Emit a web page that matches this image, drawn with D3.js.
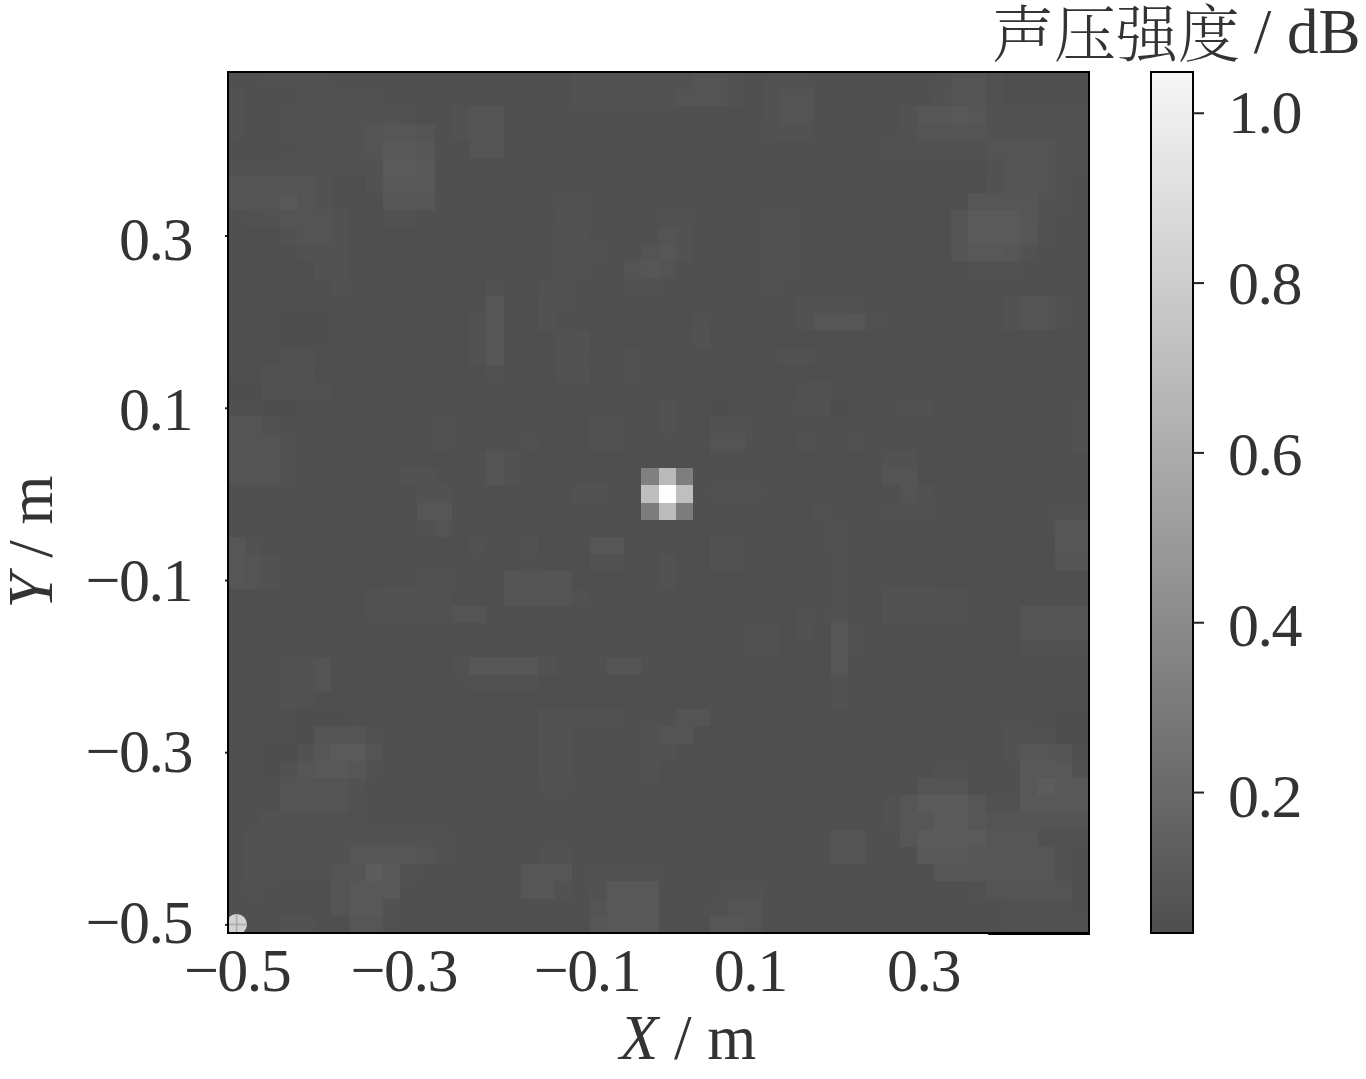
<!DOCTYPE html>
<html><head><meta charset="utf-8">
<style>html,body{margin:0;padding:0;background:#fff}svg{display:block}text{font-family:"Liberation Serif",serif;fill:#333}</style>
<script src="https://cdn.jsdelivr.net/npm/d3@7"></script></head><body>
<script>
const xTicks=[-0.5,-0.3,-0.1,0.1,0.3];
const yTicks=[-0.5,-0.3,-0.1,0.1,0.3];
const barTicks=[0.2,0.4,0.6,0.8,1.0];
const cellCentersX=d3.range(50).map(i=>(-50+2*i)/100);
const cellCentersY=d3.range(50).map(i=>(48-2*i)/100);
const sourceMarker=[-0.5,-0.5];
// sound pressure intensity, hundredths, top row first
const levelRows=[
[6,6,7,7,7,7,6,6,6,6,6,6,6,6,6,6,6,6,6,6,8,8,7,7,7,7,8,9,9,8,5,7,7,7,6,6,6,6,6,6,6,7,9,9,7,5,5,5,5,6],
[7,5,5,6,8,8,8,7,7,6,5,5,6,6,6,6,6,6,6,6,8,8,7,7,7,7,9,9,9,8,5,7,9,9,6,6,6,6,6,6,6,8,9,9,7,5,5,5,5,6],
[7,5,5,7,8,8,8,8,8,8,7,5,6,8,9,9,6,6,6,6,6,6,6,6,6,6,6,6,6,5,5,7,9,9,6,6,6,6,5,8,10,10,11,10,8,7,7,7,7,7],
[7,5,5,7,8,8,8,8,9,10,10,9,6,8,9,9,6,6,6,6,6,6,6,6,6,6,6,6,6,6,6,7,8,8,6,6,6,6,6,7,9,9,9,9,8,8,8,8,8,7],
[5,5,5,6,7,7,7,8,9,11,11,10,6,5,9,9,6,6,6,6,6,6,6,6,6,6,6,6,6,6,6,6,6,6,6,6,6,6,7,7,7,7,8,8,9,9,9,9,8,7],
[7,7,7,7,7,7,7,8,8,12,12,11,6,5,5,5,6,6,6,6,6,6,5,6,6,6,6,6,6,6,6,6,6,6,6,6,6,6,6,6,6,6,6,6,8,9,9,9,8,7],
[9,9,9,9,9,8,6,5,8,11,11,11,6,5,5,5,5,5,5,5,5,6,6,6,6,6,6,6,5,5,5,5,5,5,5,5,5,5,5,5,5,5,5,5,8,9,9,9,7,6],
[9,9,9,11,9,8,6,5,5,10,10,10,6,5,5,5,5,5,6,7,7,6,6,6,6,6,6,6,6,6,6,6,6,6,6,5,5,5,5,5,5,5,5,10,10,10,10,8,7,6],
[6,7,8,9,9,9,8,5,5,7,7,6,6,5,5,5,5,5,5,7,7,6,6,6,6,7,7,6,6,6,6,7,7,6,5,5,5,5,5,5,5,5,9,12,12,12,10,8,6,6],
[5,5,5,8,9,9,8,6,5,5,5,5,6,6,6,5,5,5,6,7,8,6,6,5,6,9,8,6,5,5,6,7,7,6,5,5,5,5,5,5,5,5,9,12,12,12,10,7,5,5],
[5,5,5,5,7,8,8,6,5,5,5,5,6,6,6,5,5,5,6,7,8,7,6,6,9,10,8,5,6,6,6,7,7,6,5,5,5,5,5,5,5,5,9,11,11,10,8,6,5,5],
[5,5,5,5,5,8,8,6,5,5,5,5,6,6,6,5,5,5,6,7,7,6,6,9,10,9,6,5,6,6,6,7,7,6,5,5,5,5,6,6,6,5,5,7,7,7,6,6,5,5],
[5,5,5,5,5,5,7,6,5,5,5,5,5,5,5,8,5,5,7,7,6,6,6,7,7,6,6,6,6,6,6,7,6,6,6,6,6,6,6,6,6,6,6,6,5,5,6,6,6,6],
[5,5,5,5,5,5,6,6,6,5,5,5,5,5,5,10,5,5,8,7,6,5,5,6,5,6,5,5,5,5,5,5,5,8,8,8,7,6,6,6,5,5,5,5,6,8,9,9,7,6],
[5,5,5,4,4,4,5,5,5,5,5,5,5,5,8,10,5,5,8,6,5,5,5,6,5,6,5,8,6,5,5,5,5,8,10,10,10,7,6,6,5,5,5,5,6,8,9,9,7,6],
[5,5,5,4,4,4,5,5,5,5,5,5,5,5,8,10,5,5,5,7,8,5,5,5,5,5,6,8,5,5,5,5,5,5,5,5,5,5,5,5,5,5,5,5,5,5,5,5,5,5],
[5,5,5,7,7,5,5,5,5,5,5,5,5,5,8,10,5,5,5,7,8,6,6,7,5,6,6,5,6,6,6,6,7,7,6,6,6,6,6,6,6,6,5,5,5,5,5,5,5,5],
[5,5,7,8,8,5,5,5,5,6,6,6,6,5,5,7,5,5,5,7,8,5,5,7,5,6,6,5,5,5,5,5,5,5,5,5,6,6,6,6,6,6,6,6,6,5,5,5,5,5],
[4,4,7,7,7,7,5,5,5,6,6,6,6,5,5,6,5,5,5,6,6,5,5,5,5,5,5,5,5,5,5,5,5,7,8,5,5,6,6,6,6,6,6,6,6,6,6,6,6,6],
[5,5,4,4,5,5,5,5,5,5,6,6,6,6,6,6,5,5,5,5,5,5,5,5,5,8,5,5,4,5,5,5,6,7,8,4,5,6,6,7,7,5,5,5,5,5,5,5,5,7],
[9,9,7,6,5,5,5,5,6,6,6,6,7,6,6,6,6,5,5,5,5,7,8,6,6,8,5,5,8,8,6,5,5,5,5,5,5,5,5,5,5,5,5,5,5,5,5,5,5,8],
[9,9,9,7,5,5,5,5,5,6,6,6,7,6,5,6,5,7,5,5,5,7,8,6,5,6,6,5,9,9,6,5,5,7,6,5,7,6,6,6,6,5,5,5,5,5,5,5,5,8],
[9,9,9,7,5,5,5,5,6,6,6,5,5,5,6,9,7,5,5,5,5,5,5,5,5,5,5,5,6,6,5,5,5,5,5,5,5,6,8,8,5,5,5,5,5,5,5,5,5,6],
[9,9,9,7,6,6,6,6,6,5,8,8,6,5,6,9,7,5,5,5,6,6,6,5,33,66,32,6,6,6,6,6,6,6,6,6,6,6,9,9,5,5,5,5,5,5,5,5,5,5],
[6,6,6,6,6,6,6,6,6,6,6,8,8,6,6,5,5,5,6,6,8,8,6,5,68,104,69,6,7,7,7,6,6,6,6,5,6,6,6,9,8,6,5,5,5,5,5,5,5,5],
[6,6,5,5,5,5,5,5,5,5,5,10,10,6,5,6,5,5,5,5,6,5,5,5,31,67,31,6,5,5,5,5,5,5,7,6,6,6,7,7,7,6,6,6,6,6,6,6,8,8],
[6,6,5,5,5,5,5,5,5,5,5,7,9,6,5,5,5,5,5,5,5,5,5,5,6,6,6,5,5,5,6,6,6,6,6,8,6,6,6,6,6,6,6,6,6,6,6,6,10,10],
[10,7,5,5,5,5,5,5,5,5,5,5,5,5,8,6,5,8,5,5,6,10,10,5,5,5,5,5,8,8,5,5,5,5,6,8,6,6,6,6,6,5,5,5,5,5,5,5,10,10],
[10,9,8,5,5,5,5,5,5,5,5,6,6,6,6,5,5,6,5,5,5,8,8,5,5,8,5,5,8,8,5,5,5,5,5,8,6,6,6,6,5,5,5,5,5,5,5,5,9,9],
[10,9,8,5,5,5,5,5,5,6,6,7,7,6,5,5,9,9,9,9,5,5,5,5,6,8,5,5,5,5,5,5,5,5,5,8,5,5,6,6,6,5,5,5,5,5,5,5,5,5],
[5,5,5,5,5,5,5,5,7,8,8,7,7,5,5,5,9,9,9,9,7,5,5,5,6,6,5,5,5,5,5,5,5,5,5,8,5,5,8,8,8,8,8,5,5,5,5,5,5,5],
[5,5,5,5,5,5,5,5,7,8,8,8,7,9,9,5,5,5,5,6,6,6,6,6,6,6,6,5,5,5,5,5,5,7,6,8,5,5,8,8,8,8,8,5,5,5,9,9,9,9],
[5,5,5,5,5,5,5,5,5,5,5,5,5,5,5,5,5,5,5,5,6,6,6,6,5,5,5,5,6,5,8,8,5,7,5,10,8,5,5,5,5,5,5,5,5,5,9,9,9,9],
[5,5,5,5,5,5,5,5,5,5,5,5,5,5,5,5,5,6,6,6,6,6,5,5,5,5,5,5,5,5,8,8,5,5,5,10,8,5,5,5,5,5,5,5,5,5,7,7,7,7],
[5,5,5,8,8,9,5,5,5,5,5,5,5,7,10,10,10,10,8,6,6,6,9,9,6,5,5,5,5,5,5,5,6,6,5,10,5,5,5,5,5,5,5,5,5,5,5,5,5,5],
[5,5,5,8,8,9,5,5,5,5,5,5,5,6,7,7,7,7,5,5,5,5,5,5,5,5,5,5,5,5,5,5,6,6,5,8,5,5,5,5,5,5,5,5,5,5,5,5,5,5],
[5,5,5,7,7,5,5,5,5,5,5,5,5,5,5,5,5,5,5,5,5,5,5,5,5,5,5,5,6,5,5,5,6,6,5,8,5,5,5,5,5,5,5,5,5,5,5,5,5,5],
[5,5,5,5,4,4,4,5,5,5,5,5,5,5,5,5,5,5,8,8,8,8,8,6,6,6,9,9,5,5,6,6,6,6,5,5,5,5,5,5,5,5,5,5,6,6,6,5,4,4],
[5,5,5,5,4,9,9,9,7,5,5,5,5,5,5,5,5,5,8,8,6,6,6,6,8,9,9,5,5,6,6,6,6,6,5,5,5,5,5,5,5,5,5,5,5,8,8,7,4,4],
[5,5,4,4,8,10,12,12,9,5,5,5,5,5,5,5,5,5,8,8,6,6,6,6,8,8,5,5,5,6,6,6,6,6,5,5,5,5,5,5,5,5,5,5,5,8,10,10,9,5],
[5,5,4,8,10,11,11,10,7,5,5,5,5,5,5,5,5,5,8,8,6,6,6,6,8,5,5,5,5,6,6,6,6,6,5,5,5,5,5,5,5,7,7,5,5,6,11,11,11,8],
[5,5,5,9,9,9,9,8,6,5,5,5,5,5,5,5,5,5,7,7,6,6,6,6,6,5,5,5,5,5,5,5,5,5,5,5,5,5,5,5,9,9,9,6,6,6,11,13,11,11],
[5,6,6,9,9,9,9,7,6,5,5,5,5,5,5,5,5,5,6,6,6,6,6,6,6,5,5,5,5,5,5,5,5,5,5,5,5,5,7,10,12,12,12,10,7,7,11,11,11,11],
[6,6,8,8,8,8,7,7,6,6,6,6,6,6,6,6,5,5,6,6,6,6,6,6,6,6,6,6,6,6,5,5,5,5,5,5,5,5,7,10,10,12,12,10,9,9,9,9,9,9],
[6,8,8,8,8,8,8,8,8,8,8,8,7,6,6,6,6,5,6,6,6,6,6,6,6,6,6,6,6,6,6,6,6,6,6,9,9,6,6,10,12,12,12,12,10,10,10,7,7,7],
[6,8,8,8,8,8,8,10,10,10,10,9,7,6,6,6,6,6,8,8,6,6,6,6,6,6,6,6,6,6,6,6,6,6,6,9,9,6,6,6,11,11,11,10,10,10,10,10,7,5],
[6,8,8,7,7,7,9,9,13,11,8,6,6,6,6,6,6,10,10,10,6,7,7,7,7,6,6,6,6,6,6,6,6,6,6,6,6,6,6,6,6,10,10,10,10,10,10,10,8,6],
[6,7,6,5,5,5,9,11,11,11,6,6,6,6,6,6,6,10,10,8,6,8,11,11,11,6,6,6,6,8,8,6,6,6,6,6,6,6,6,6,6,6,6,7,9,9,9,9,9,6],
[6,6,6,5,5,5,9,11,11,8,6,6,6,6,6,6,6,6,6,6,6,9,11,11,11,6,6,6,7,9,9,6,6,6,6,6,6,6,6,6,6,6,6,6,6,7,8,8,8,6],
[6,6,6,8,8,6,5,10,10,7,6,6,6,6,6,6,6,6,6,6,6,10,11,11,11,6,6,6,10,10,9,6,6,6,6,6,6,6,6,6,6,6,6,6,6,7,7,7,7,7]
];
const W=1366,H=1079;
const plot={l:228,r:1089,t:72,b:933};
const x=d3.scaleLinear().domain([-0.51,0.49]).range([plot.l,plot.r]);
const y=d3.scaleLinear().domain([-0.51,0.49]).range([plot.b,plot.t]);
const vDomain=[0.034,1.048];
const cellLevel=d3.scaleLinear().domain([0.04,0.06,0.08,0.13,1.048]).range([78,80,82,92,255]);
const grey=v=>{const g=Math.round(cellLevel(v));return `rgb(${g},${g},${g})`;};
const barY=d3.scaleLinear().domain(vDomain).range([933,72]);
// the printed labels sit on a slightly tighter pitch than their tick marks
const yLabelY=d3.scaleLinear().domain([-0.5,0.3]).range([942,259]);
const barLabelY=d3.scaleLinear().domain([0.2,1.0]).range([816,132]);
const xLabelNudge=new Map([[-0.5,0],[-0.3,-5.5],[-0.1,5.5],[0.1,-3.5],[0.3,-2.5]]);
const svg=d3.select("body").append("svg").attr("width",W).attr("height",H);
const cells=[];
levelRows.forEach((row,r)=>row.forEach((v,c)=>cells.push({x:cellCentersX[c],y:cellCentersY[r],v:v/100})));
svg.append("g").attr("shape-rendering","crispEdges").selectAll("rect").data(cells).join("rect")
 .attr("x",d=>x(d.x-0.01)).attr("y",d=>y(d.y+0.01))
 .attr("width",x(0.02)-x(0)+0.4).attr("height",y(0)-y(0.02)+0.4)
 .attr("fill",d=>grey(d.v));
// reference source marker, clipped to the axes
svg.append("clipPath").attr("id","pc").append("rect").attr("x",plot.l).attr("y",plot.t).attr("width",plot.r-plot.l).attr("height",plot.b-plot.t);
const mk=svg.append("g").attr("clip-path","url(#pc)").append("g").attr("transform",`translate(${x(sourceMarker[0])},${y(sourceMarker[1])})`);
mk.append("path").attr("d",d3.symbol(d3.symbolCircle,340)()).attr("fill","#d2d2d2");
mk.append("path").attr("d","M-10,0H10M0,-10V10").attr("stroke","#a8a8a8").attr("stroke-width",1.5);
// axes
const tickStyle=(g,anchor)=>{
 g.select(".domain").remove();
 g.selectAll("line").attr("stroke","#222").attr("stroke-width",2);
 g.selectAll("text").attr("font-size",62).attr("letter-spacing","-1.5px").attr("fill","#333").attr("font-family","Liberation Serif").attr("text-anchor",anchor).attr("dy",0);
};
const fmt=d=>d3.format(".1f")(d).replace("-","\u2212");
svg.append("g").attr("transform",`translate(0,${plot.b})`)
 .call(d3.axisBottom(x).tickValues(xTicks).tickFormat(fmt).tickSize(1).tickPadding(0))
 .call(g=>{tickStyle(g,"middle");g.selectAll("text").attr("y",58).attr("x",d=>xLabelNudge.get(d));});
svg.append("g").attr("transform",`translate(${plot.l},0)`)
 .call(d3.axisLeft(y).tickValues(yTicks).tickFormat(fmt).tickSize(3).tickPadding(0))
 .call(g=>{tickStyle(g,"end");g.selectAll(".tick text").attr("x",-36).attr("y",d=>yLabelY(d)-y(d));});
svg.append("rect").attr("x",plot.l).attr("y",plot.t).attr("width",plot.r-plot.l).attr("height",plot.b-plot.t)
 .attr("fill","none").attr("stroke","#000").attr("stroke-width",2);
svg.append("line").attr("x1",x(0.373)).attr("x2",plot.r+1).attr("y1",plot.b+0.5).attr("y2",plot.b+0.5).attr("stroke","#000").attr("stroke-width",3);
// colour bar
const gr=svg.append("defs").append("linearGradient").attr("id","cb").attr("x1",0).attr("x2",0).attr("y1",1).attr("y2",0);
gr.append("stop").attr("offset",0).attr("stop-color","#4e4e4e");
gr.append("stop").attr("offset",1).attr("stop-color","#f6f6f6");
svg.append("rect").attr("x",1151).attr("y",72).attr("width",42).attr("height",861).attr("fill","url(#cb)").attr("stroke","#000").attr("stroke-width",2);
svg.append("g").attr("transform","translate(1193,0)")
 .call(d3.axisRight(barY).tickValues(barTicks).tickFormat(d3.format(".1f")).tickSize(11).tickPadding(0))
 .call(g=>{tickStyle(g,"start");g.selectAll(".tick text").attr("x",35).attr("y",d=>barLabelY(d)-barY(d));});
// titles
svg.append("text").attr("x",992).attr("y",57).attr("font-size",62).style("font-family","'Noto Serif CJK SC','Noto Sans CJK SC'").style("font-weight",300).text("声压强度");
svg.append("text").attr("x",1238).attr("y",53).attr("font-size",63).text(" / dB").attr("xml:space","preserve").style("white-space","pre");
svg.append("text").attr("x",688).attr("y",1059).attr("font-size",63).attr("text-anchor","middle")
 .call(t=>{t.append("tspan").attr("font-style","italic").text("X");t.append("tspan").text(" / m");});
svg.append("text").attr("transform","translate(52,542) rotate(-90)").attr("font-size",63).attr("text-anchor","middle")
 .call(t=>{t.append("tspan").attr("font-style","italic").text("Y");t.append("tspan").text(" / m");});
</script></body></html>
